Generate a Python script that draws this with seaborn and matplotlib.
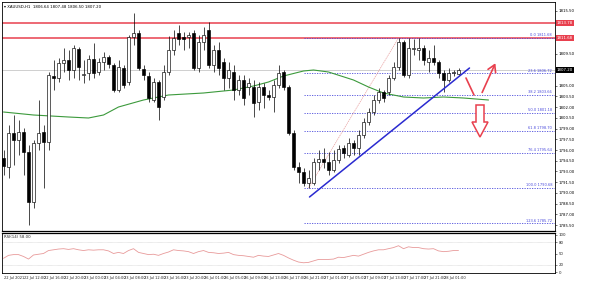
import numpy as np
import pandas as pd
import matplotlib
matplotlib.use("Agg")
import matplotlib.pyplot as plt
import matplotlib.transforms as mtransforms
from matplotlib.patches import Polygon
import seaborn as sns

# ---------------- data ----------------
opens = [1794.88, 1793.62, 1798.38, 1797.40, 1798.52, 1795.72, 1788.72, 1796.98, 1798.52, 1797.12,
         1806.36, 1806.08, 1808.18, 1808.60, 1807.20, 1810.14, 1806.50, 1806.78, 1808.74, 1806.92,
         1808.32, 1809.02, 1807.90, 1804.40, 1807.48, 1805.52, 1811.82, 1812.38, 1807.34, 1806.36,
         1803.00, 1805.52, 1803.42, 1806.92, 1810.00, 1812.38, 1811.82, 1811.82, 1812.38, 1807.48,
         1811.12, 1812.80, 1807.90, 1810.00, 1808.32, 1806.08, 1806.92, 1804.40, 1805.80, 1804.82,
         1804.82, 1802.72, 1804.82, 1803.70, 1803.42, 1805.10, 1806.92, 1804.82, 1798.38, 1793.62,
         1792.92, 1791.38, 1791.38, 1794.32, 1794.74, 1794.32, 1793.20, 1794.60, 1796.28, 1795.30,
         1796.98, 1796.28, 1798.10, 1799.92, 1801.32, 1803.00, 1804.12, 1804.12, 1806.08, 1807.62,
         1811.12, 1806.50, 1810.14, 1810.00, 1810.28, 1808.32, 1808.88, 1808.32, 1806.78, 1805.80,
         1806.78, 1806.64]
highs = [1796.00, 1799.50, 1800.90, 1800.20, 1799.08, 1796.70, 1797.40, 1803.00, 1799.50, 1806.92,
         1808.60, 1808.88, 1810.28, 1810.00, 1810.70, 1810.42, 1808.60, 1809.30, 1810.98, 1808.88,
         1809.72, 1809.30, 1808.18, 1808.60, 1807.90, 1812.10, 1815.18, 1812.80, 1807.90, 1806.92,
         1806.08, 1805.80, 1807.90, 1811.96, 1812.80, 1813.50, 1812.52, 1812.52, 1812.80, 1812.10,
         1813.22, 1813.92, 1810.70, 1811.12, 1808.88, 1808.32, 1807.90, 1806.50, 1806.50, 1806.08,
         1805.80, 1805.52, 1805.38, 1804.40, 1805.80, 1807.90, 1807.20, 1805.10, 1798.80, 1794.32,
         1793.48, 1793.20, 1794.88, 1796.00, 1796.28, 1795.72, 1796.00, 1796.70, 1796.70, 1797.68,
         1797.40, 1798.80, 1800.48, 1801.88, 1803.70, 1804.68, 1804.40, 1806.50, 1808.32, 1811.68,
         1811.40, 1811.68, 1811.54, 1811.68, 1810.70, 1810.00, 1810.70, 1808.60, 1807.20, 1807.48,
         1807.20, 1807.48]
lows = [1792.50, 1792.08, 1793.90, 1795.30, 1792.50, 1785.50, 1787.88, 1796.00, 1790.68, 1796.00,
        1804.40, 1805.52, 1806.92, 1805.80, 1806.08, 1805.80, 1805.38, 1805.80, 1806.08, 1806.50,
        1807.20, 1807.48, 1804.12, 1804.12, 1804.68, 1805.10, 1810.70, 1807.20, 1805.80, 1802.72,
        1802.72, 1800.20, 1803.00, 1806.50, 1809.30, 1810.70, 1810.00, 1810.28, 1807.20, 1806.92,
        1810.00, 1807.48, 1806.92, 1806.50, 1804.40, 1804.68, 1803.00, 1803.70, 1802.30, 1803.70,
        1800.62, 1801.60, 1801.88, 1803.00, 1801.32, 1804.68, 1804.40, 1798.10, 1793.20, 1791.38,
        1790.96, 1790.68, 1791.10, 1793.20, 1793.48, 1792.50, 1792.92, 1794.18, 1794.88, 1795.02,
        1795.30, 1795.30, 1797.68, 1799.50, 1800.90, 1802.58, 1802.72, 1803.70, 1805.80, 1807.20,
        1806.22, 1806.08, 1809.30, 1808.60, 1807.90, 1806.92, 1807.90, 1806.08, 1804.12, 1805.52,
        1806.36, 1806.50]
closes = [1793.76, 1798.38, 1797.40, 1798.52, 1795.72, 1788.72, 1796.98, 1798.38, 1797.12, 1806.50,
          1806.08, 1808.18, 1808.60, 1807.20, 1810.28, 1807.62, 1806.64, 1808.74, 1806.78, 1808.32,
          1809.02, 1808.04, 1804.40, 1807.62, 1805.10, 1811.82, 1812.38, 1807.48, 1806.50, 1803.28,
          1805.52, 1802.02, 1806.92, 1810.00, 1811.68, 1811.54, 1811.54, 1812.10, 1807.48, 1811.12,
          1812.10, 1807.90, 1810.00, 1807.48, 1806.08, 1807.20, 1804.40, 1805.80, 1803.28, 1805.38,
          1802.58, 1804.82, 1803.70, 1803.42, 1805.10, 1806.78, 1804.82, 1798.38, 1793.62, 1792.92,
          1791.38, 1792.08, 1794.32, 1794.74, 1794.32, 1793.20, 1794.60, 1796.14, 1795.58, 1796.98,
          1796.28, 1798.10, 1799.92, 1801.32, 1803.00, 1804.12, 1803.28, 1806.08, 1807.62, 1811.12,
          1806.50, 1810.28, 1810.28, 1810.28, 1808.60, 1808.88, 1808.32, 1806.78, 1805.80, 1806.78,
          1806.92, 1807.20]

# moving average (green) sampled at bar positions
ma_bar = [0, 6, 13, 17, 20, 23, 28, 33, 40, 46, 50, 53, 56, 60, 62, 65, 70, 73, 76, 80, 84, 88, 92, 97]
ma_val = [1801.32, 1800.90, 1800.62, 1800.48, 1800.90, 1802.02, 1803.00, 1803.70, 1803.98, 1804.40,
          1804.96, 1805.52, 1806.36, 1807.06, 1807.20, 1806.92, 1805.80, 1804.82, 1803.98, 1803.42,
          1803.28, 1803.42, 1803.28, 1803.00]

# RSI(14) per bar
rsi = [37, 45, 47, 47, 42, 35, 46, 48, 50, 58, 60, 62, 63, 61, 63, 60, 58, 60, 59, 60,
       60, 57, 50, 53, 50, 58, 63, 53, 50, 47, 48, 45, 50, 54, 60, 58, 57, 55, 50, 55,
       58, 53, 52, 50, 51, 53, 47, 45, 44, 42, 40, 45, 43, 42, 46, 50, 45, 38, 32, 27,
       25, 26, 30, 34, 34, 34, 35, 40, 39, 42, 45, 43, 48, 53, 57, 60, 60, 63, 66, 71,
       63, 68, 66, 66, 63, 62, 63, 57, 55, 56, 58, 58]

time_labels = ["22 Jul 2021", "22 Jul 12:00", "22 Jul 16:00", "22 Jul 20:00", "23 Jul 00:00",
               "23 Jul 04:00", "23 Jul 08:00", "23 Jul 12:00", "23 Jul 16:00", "23 Jul 20:00",
               "26 Jul 01:00", "26 Jul 05:00", "26 Jul 09:00", "26 Jul 13:00", "26 Jul 17:00",
               "26 Jul 21:00", "27 Jul 01:00", "27 Jul 05:00", "27 Jul 09:00", "27 Jul 13:00",
               "27 Jul 17:00", "27 Jul 21:00", "28 Jul 01:00"]
label_bars = list(range(0, 92, 4))

resistance_levels = [1813.78, 1811.68]
fib_high = 1811.68
fib_low = 1790.68
fib_pcts = [0.0, 23.6, 38.2, 50.0, 61.8, 76.4, 100.0, 123.6]
fib_start_bar = 60
trend_bars = [61.2, 93.2]
trend_prices = [1789.42, 1807.48]
fib_diag_bars = [61, 79]
fib_diag_prices = [1790.68, 1811.68]

# ---------------- figure ----------------
sns.set_style("white")
plt.rcParams['font.family'] = ['DejaVu Sans']

df = pd.DataFrame({"bar": np.arange(len(opens)), "open": opens, "high": highs,
                   "low": lows, "close": closes, "rsi": rsi})
ma_df = pd.DataFrame({"bar": ma_bar, "ma": ma_val})

W, H = 600, 281
fig = plt.figure(figsize=(W / 100, H / 100), dpi=100)
fig.patch.set_facecolor("white")

def ax_rect(x0, y0, x1, y1):
    return [x0 / W, 1 - y1 / H, (x1 - x0) / W, (y1 - y0) / H]

ax = fig.add_axes(ax_rect(2, 2, 555, 231))
axr = fig.add_axes(ax_rect(2, 233, 555, 273))

XMIN, XMAX = -0.3, 110.3
ax.set_xlim(XMIN, XMAX)
ax.set_ylim(1784.66, 1816.72)

red = "#e8404e"
blue_fib = "#4a4adc"

# current price line
ax.axhline(closes[-1], color="#c8c8c8", lw=0.6, zorder=0)

# resistance lines
for lv in resistance_levels:
    ax.axhline(lv, color=red, lw=1.1, zorder=1)

# fib levels
rng = fib_high - fib_low
for p in fib_pcts:
    lv = fib_high - p / 100 * rng
    ax.hlines(lv, fib_start_bar, XMAX, colors=blue_fib, lw=0.6, linestyles=(0, (1.5, 1.5)), zorder=1)
    ax.text(XMAX - 0.6, lv + 0.12, f"{p:.1f} {lv:.2f}", color=blue_fib, fontsize=2.6,
            ha="right", va="bottom", zorder=3)

# fib diagonal
ax.plot(fib_diag_bars, fib_diag_prices, color="#e8a0a0", lw=0.5, ls=(0, (2, 1)), zorder=1)

# MA line
sns.lineplot(data=ma_df, x="bar", y="ma", ax=ax, color="#3c9a3c", lw=0.8, zorder=2)

# candles
o = df["open"].values; c = df["close"].values
bull = c >= o
ax.vlines(df["bar"], df["low"], df["high"], color="black", lw=0.5, zorder=3)
bottoms = np.minimum(o, c)
heights = np.maximum(np.abs(c - o), 0.06)
ax.bar(df["bar"], heights, bottom=bottoms, width=0.62,
       color=np.where(bull, "white", "black"), edgecolor="black", lw=0.45, zorder=4)

# trend line
ax.plot(trend_bars, trend_prices, color="#2a2ad0", lw=1.1, zorder=5)

# red annotation strokes
ax.plot([92.5, 94.1], [1806.08, 1803.70], color=red, lw=1.2, zorder=6)
ax.annotate("", xy=(98.6, 1808.5), xytext=(95.5, 1803.70),
            arrowprops=dict(arrowstyle="->,head_length=0.5,head_width=0.3", color=red, lw=1.2),
            zorder=6)
arrow = Polygon([(94.5, 1802.30), (96.1, 1802.30), (96.1, 1799.92), (96.9, 1799.92),
                 (95.3, 1797.82), (93.7, 1799.92), (94.5, 1799.92)],
                closed=True, facecolor="white", edgecolor=red, lw=1.1, zorder=6)
ax.add_patch(arrow)

# axes styling
for a in (ax, axr):
    for s in a.spines.values():
        s.set_color("black"); s.set_linewidth(0.6)
    a.set_xlabel(""); a.set_ylabel("")
ax.spines["bottom"].set_linewidth(0.9)
axr.spines["top"].set_linewidth(0.9)

ax.yaxis.tick_right()
box_levels = [resistance_levels[0], resistance_levels[1], closes[-1]]
ticks = [t for t in np.arange(1785.50, 1816.6, 1.50)
         if all(abs(t - b) > 0.9 for b in box_levels)]
ax.set_yticks(ticks)
ax.set_yticklabels([f"{t:.2f}" for t in ticks])
ax.tick_params(axis="y", labelsize=2.8, length=1.5, width=0.4, pad=1, colors="black")
ax.set_xticks([])

# price boxes on right axis
trans = mtransforms.blended_transform_factory(ax.transAxes, ax.transData)
for lv, fc in [(resistance_levels[0], red), (resistance_levels[1], red), (closes[-1], "black")]:
    ax.text(1.003, lv, f"{lv:.2f}", transform=trans, fontsize=2.8, color="white", ha="left",
            va="center", bbox=dict(boxstyle="square,pad=0.25", fc=fc, ec="none"), zorder=10,
            clip_on=False)

ax.text(0.004, 0.985, "\u25be XAUUSD,H1  1806.64 1807.48 1806.50 1807.20", transform=ax.transAxes,
        fontsize=2.8, ha="left", va="top", color="black")

# RSI panel
axr.set_xlim(XMIN, XMAX)
axr.set_ylim(-2.6, 105.3)
for lv in (80, 20):
    axr.axhline(lv, color="#c0c0c0", lw=0.4, ls=(0, (1, 1)))
sns.lineplot(data=df, x="bar", y="rsi", ax=axr, color="#e89a9a", lw=0.6)
axr.set_xlabel(""); axr.set_ylabel("")
axr.yaxis.tick_right()
axr.set_yticks([0, 20, 50, 80, 100])
axr.set_yticklabels(["0", "20", "50", "80", "100"])
axr.tick_params(axis="y", labelsize=2.8, length=1.5, width=0.4, pad=1)
axr.set_xticks(label_bars)
axr.set_xticklabels(time_labels, ha="left")
axr.tick_params(axis="x", labelsize=2.6, length=1.5, width=0.4, pad=1)
axr.text(0.004, 0.95, f"RSI(14) {rsi[-1]:.2f}", transform=axr.transAxes,
         fontsize=2.8, ha="left", va="top")

fig.savefig("out.png", dpi=100, facecolor="white")
